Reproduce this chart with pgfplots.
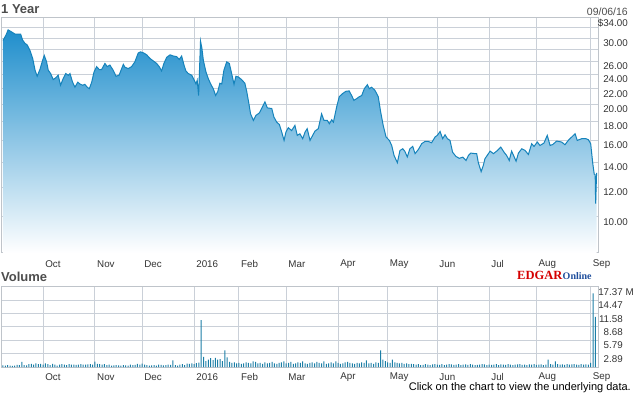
\documentclass[border=0pt]{standalone}
\usepackage{fontspec}
\setmainfont{Liberation Sans}
\newfontfamily\serifbf{Liberation Serif}
\usepackage{pgfplots}
\usepackage{pgfplotstable}
\pgfplotsset{compat=1.18}
\definecolor{gridc}{HTML}{CAD0D8}
\definecolor{borderc}{HTML}{BFC4CA}
\definecolor{linec}{HTML}{1683BB}
\definecolor{topc}{HTML}{1F8ECC}
\definecolor{midc}{HTML}{7FC2E6}
\definecolor{volc}{HTML}{1B7EA6}
\definecolor{textc}{HTML}{333333}
\definecolor{titlec}{HTML}{4D4D4D}
\definecolor{edgarred}{HTML}{D40000}
\definecolor{edgarblue}{HTML}{1F4E9C}
\newcommand\ticklab{\fontsize{9.8}{11}\selectfont}

\pgfplotstableread{
x y
0 29.6
1.3 30.6
2.2 31.6
3.7 31.2
5.1 30.8
6.5 30.8
7.5 30.8
8.3 29.7
9.3 29.1
10.3 28.8
11.4 27.9
12.6 26.5
13.6 24.65
14.5 23.75
15.7 24.8
16.8 26.2
17.5 27.0
18.5 25.95
19.2 24.65
20.2 24.15
21.3 23.27
22.5 23.57
23.4 23.9
24.4 22.47
25.5 23.4
26.6 24.15
27.7 23.9
28.4 24.15
29.5 22.9
30.5 22.2
31.7 22.9
32.6 22.65
33.8 22.47
34.7 22.6
35.7 22.2
36.6 22.0
37.6 22.9
38.6 24.4
39.7 25.2
40.8 24.75
41.8 24.75
43.2 25.7
44.2 25.2
45.3 25.45
46.7 24.65
47.9 23.75
49.2 23.9
50.3 24.9
51.0 25.55
51.7 25.1
53.1 24.9
54.5 25.2
55.9 25.95
57.3 27.4
58.3 27.6
59.7 27.4
60.9 27.1
62.3 26.5
63.7 26.1
65.1 25.7
66.2 25.2
67.2 24.55
68.2 25.7
69.4 26.7
70.8 27.1
72.2 26.9
73.6 26.8
74.7 26.35
75.7 26.9
76.7 25.45
77.5 24.55
78.5 24.15
80.0 23.9
80.9 23.27
81.8 22.65
82.3 23.17
82.9 21.1
83.7 29.5
84.3 28.2
84.9 26.2
86.0 24.4
87.0 23.4
88.0 22.65
89.1 22.0
90.1 21.1
91.0 21.6
91.9 22.75
92.7 22.65
93.6 24.65
94.8 25.95
95.9 25.7
96.9 24.15
97.9 22.6
98.7 23.75
99.7 23.65
101.1 23.27
102.5 22.75
103.3 21.6
104.2 20.07
104.9 18.85
106.1 18.1
107.2 18.67
108.6 18.94
109.6 19.47
111.0 20.28
112.0 19.55
113.9 19.47
114.8 18.47
116.0 17.9
117.1 17.65
118.1 16.85
119.1 16.0
119.9 16.85
120.9 17.3
122.3 17.0
123.7 17.55
124.7 16.5
125.8 16.67
127.0 16.17
128.0 16.85
128.9 17.2
130.1 16.0
131.2 16.5
132.2 16.95
133.6 17.2
135.0 18.85
136.0 18.1
137.4 18.1
138.3 17.73
139.3 18.17
140.0 17.9
141.4 19.7
142.5 20.95
143.9 21.35
145.3 21.65
146.7 21.7
147.7 21.1
148.7 20.48
149.9 20.7
151.0 20.95
152.0 21.1
153.1 22.0
154.4 22.55
155.2 22.0
156.2 22.2
157.6 21.78
159.0 20.95
160.0 19.1
161.1 17.55
162.3 16.35
163.7 16.0
164.7 15.51
165.7 14.58
167.1 13.95
168.2 15.04
169.4 15.2
170.3 14.95
171.3 14.45
172.4 15.2
173.6 15.42
174.6 14.75
176.0 15.13
177.4 15.68
178.8 15.9
180.2 15.9
181.6 15.77
183.1 16.35
184.0 16.5
185.2 16.9
186.3 16.17
187.3 16.57
188.3 16.17
189.4 16.0
190.5 14.88
191.9 14.5
193.3 14.33
194.8 14.43
196.2 14.14
197.2 14.58
198.2 14.8
200.0 14.75
200.7 14.75
201.4 13.95
202.6 13.2
203.5 13.71
204.2 14.29
206.4 14.98
207.8 14.75
209.2 14.98
210.9 15.36
212.3 14.88
213.4 14.58
214.5 14.14
215.5 14.98
217.4 14.08
218.4 14.8
219.8 15.2
221.2 15.04
222.6 14.67
224.0 15.68
225.0 15.42
226.4 15.84
227.5 15.51
229.2 15.74
230.6 16.5
231.8 15.51
232.9 15.6
234.6 15.94
236.7 15.84
238.1 15.58
239.5 16.0
241.0 16.35
242.4 16.67
243.3 16.0
245.2 16.17
247.0 16.17
248.0 16.07
249.0 15.68
249.9 13.85
250.5 13.0
250.9 12.95
251.1 10.85
251.5 13.1
}\price

\pgfplotstableread{
x y
0 0.35
1 0.3
2 0.4
3 0.3
4 0.25
5 0.3
6 0.45
7 0.4
8 1.1
9 0.4
10 0.35
11 0.6
12 0.7
13 0.5
14 0.8
15 0.6
16 0.7
17 0.5
18 0.8
19 0.6
20 0.4
21 0.7
22 0.5
23 0.3
24 0.5
25 0.6
26 0.5
27 0.4
28 0.6
29 0.5
30 0.5
31 0.45
32 0.5
33 0.6
34 0.5
35 0.5
36 0.55
37 0.6
38 0.5
39 1.15
40 0.7
41 0.6
42 0.5
43 0.6
44 0.4
45 0.5
46 0.3
47 0.35
48 0.4
49 0.35
50 0.3
51 0.4
52 0.35
53 0.3
54 0.5
55 0.4
56 0.45
57 0.7
58 0.5
59 0.75
60 0.5
61 0.4
62 0.3
63 0.35
64 0.4
65 0.3
66 0.5
67 0.45
68 0.35
69 0.4
70 0.5
71 0.45
72 1.45
73 0.4
74 0.3
75 0.5
76 0.6
77 0.4
78 0.75
79 0.7
80 0.8
81 0.6
82 0.85
83 0.95
84 10.2
85 2.2
86 1.3
87 1.6
88 1.9
89 1.5
90 2.0
91 1.6
92 1.7
93 1.3
94 3.6
95 2.1
96 1.1
97 0.9
98 1.0
99 0.8
100 0.9
101 0.7
102 0.8
103 1.0
104 0.9
105 0.8
106 1.2
107 1.1
108 0.8
109 0.9
110 0.7
111 1.0
112 0.8
113 0.9
114 1.1
115 0.8
116 0.7
117 0.9
118 1.0
119 1.2
120 0.8
121 0.9
122 1.1
123 0.7
124 0.8
125 1.0
126 0.9
127 1.2
128 0.8
129 0.7
130 0.9
131 1.0
132 0.8
133 1.1
134 0.9
135 0.8
136 1.2
137 0.7
138 0.8
139 1.0
140 0.8
141 1.2
142 0.9
143 0.7
144 0.8
145 1.0
146 1.1
147 0.9
148 0.8
149 0.7
150 0.9
151 0.8
152 1.0
153 0.9
154 1.45
155 0.8
156 0.9
157 0.7
158 1.0
159 0.9
160 3.6
161 1.6
162 1.3
163 1.0
164 0.9
165 1.6
166 1.0
167 0.9
168 0.8
169 0.9
170 0.7
171 0.8
172 0.6
173 0.7
174 0.6
175 0.5
176 0.6
177 0.4
178 0.45
179 0.6
180 0.5
181 0.4
182 0.55
183 0.65
184 0.5
185 0.45
186 0.6
187 0.4
188 0.5
189 0.65
190 0.55
191 0.45
192 0.5
193 0.6
194 0.4
195 0.5
196 0.55
197 0.45
198 0.6
199 0.5
200 0.4
201 0.45
202 0.5
203 0.6
204 0.55
205 0.4
206 0.5
207 0.45
208 0.5
209 0.6
210 0.4
211 0.55
212 0.5
213 0.45
214 0.6
215 0.5
216 0.4
217 0.5
218 0.55
219 0.6
220 0.45
221 0.5
222 0.4
223 0.55
224 0.5
225 0.6
226 0.45
227 0.5
228 0.55
229 0.4
230 0.5
231 1.6
232 0.6
233 0.5
234 1.2
235 0.6
236 0.5
237 0.55
238 0.45
239 0.6
240 0.5
241 0.55
242 0.6
243 0.5
244 0.45
245 0.6
246 0.5
247 0.55
248 0.5
249 0.9
250 16.0
251 10.9
}\vol

\begin{document}
\begin{tikzpicture}
\path[use as bounding box] (0pt,0pt) rectangle (635pt,-395pt);
\pgfplotsset{
  common/.style={
    scale only axis, width=596pt,
    xmin=-0.4, xmax=252.1,
    xtick={17,39,59,81,100,120,142,163,184,206,226,249},
    xticklabels={Oct,Nov,Dec,2016,Feb,Mar,Apr,May,Jun,Jul,Aug,Sep},
    yticklabel pos=right,
    grid=major,
    major grid style={gridc, line width=1pt},
    axis line style={borderc, line width=1pt},
    major tick length=0pt, minor tick length=0pt,
    /pgf/number format/assume math mode=true,
    xticklabel style={anchor=west, inner sep=0pt, xshift=2pt, font=\ticklab, text=textc},
    yticklabel style={anchor=east, inner sep=0pt, yshift=-5pt, font=\ticklab, text=textc},
  }
}
\begin{axis}[common,
  at={(2pt,-18pt)}, anchor=north west, height=235pt,
  ymode=log, ymin=8, ymax=34, log origin y=infty,
  ytick={10,12,14,16,18,20,22,24,26,28,30,32,34},
  minor ytick={},
  yticklabels={10.00,12.00,14.00,16.00,18.00,20.00,22.00,24.00,26.00,{},30.00,{},\$34.00},
  xticklabel style={yshift=-11pt},
  yticklabel style={xshift=30pt},
]
\addplot[draw=none, top color=topc, middle color=midc, bottom color=white] table {\price} \closedcycle;
\addplot[linec, line width=1pt, no marks] table {\price};
\end{axis}

\begin{axis}[common,
  at={(2pt,-287pt)}, anchor=north west, height=80pt,
  ymin=0, ymax=17.37,
  ytick={0,2.895,5.79,8.685,11.58,14.475,17.37},
  yticklabels={{},2.89,5.79,8.68,11.58,14.47,17.37\rlap{ M}},
  xticklabel style={yshift=-10pt},
  yticklabel style={xshift=25pt},
]
\addplot[ybar, bar width=1pt, fill=volc, draw=none] table {\vol};
\end{axis}

\node[anchor=west, inner sep=0pt, text=titlec, font=\bfseries\fontsize{13}{15}\selectfont] at (1pt,-9.5pt) {1 Year};
\node[anchor=east, inner sep=0pt, text=titlec, font=\fontsize{10.5}{12}\selectfont] at (628pt,-11.7pt) {09/06/16};
\node[anchor=west, inner sep=0pt, text=titlec, font=\bfseries\fontsize{13}{15}\selectfont] at (1pt,-277.3pt) {Volume};
\node[anchor=base west, inner sep=0pt, text=edgarred, font=\serifbf\bfseries\fontsize{12.5}{14}\selectfont] (ed) at (517pt,-279.3pt) {EDGAR};
\node[anchor=base west, inner sep=0pt, text=edgarblue, font=\serifbf\bfseries\fontsize{10}{12}\selectfont] at (ed.base east) {Online};
\node[anchor=east, inner sep=0pt, text=black, font=\fontsize{11}{13}\selectfont] at (631pt,-387.7pt) {Click on the chart to view the underlying data.};
\end{tikzpicture}
\end{document}
